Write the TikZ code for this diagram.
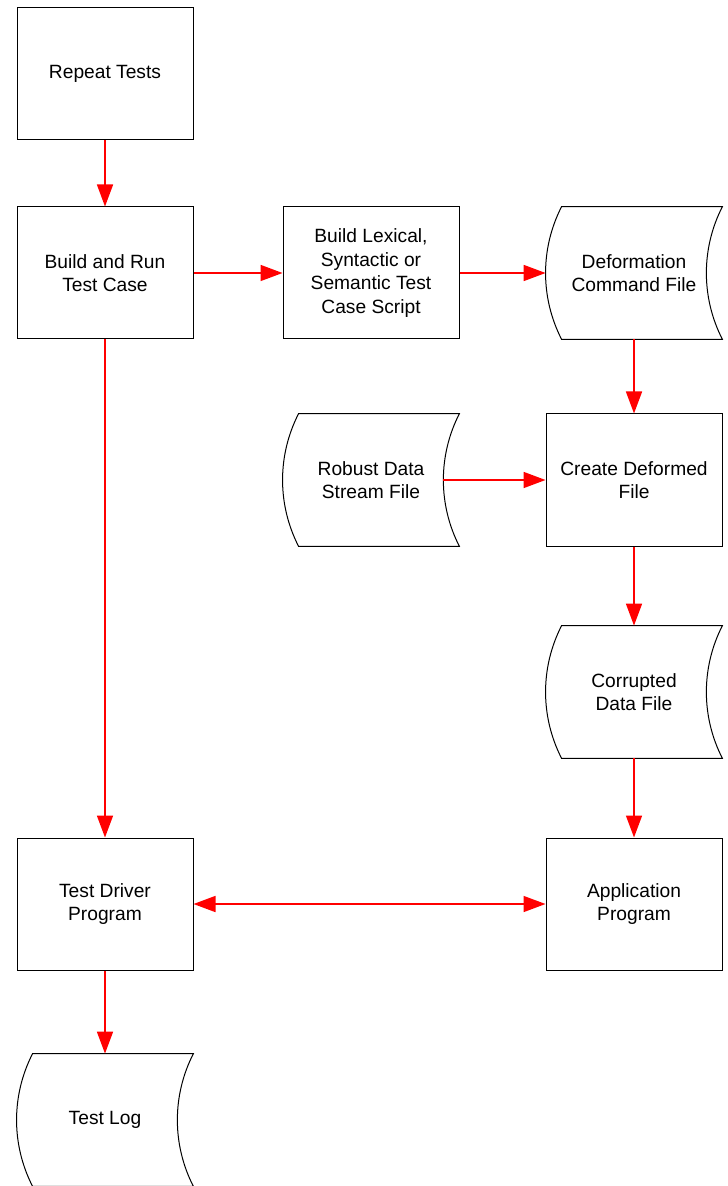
\documentclass[tikz,border=0pt]{standalone}
\usepackage{fontspec}
\setmainfont{Liberation Sans}
\usetikzlibrary{arrows.meta}
\tikzset{
    process-box/.style = {draw=black, line width=0.5pt, rectangle, minimum width=88pt, minimum height=66pt, inner sep=0pt, align=center, font=\fontsize{9.6}{11.7}\selectfont},
    data-file/.style = {rectangle, minimum width=88pt, minimum height=66pt, inner sep=0pt, align=center, font=\fontsize{9.6}{11.7}\selectfont},
    file-outline/.style = {draw=black, line width=0.5pt},
    flow-arrow/.style = {draw=red, line width=0.8pt, -{Triangle[length=11pt,width=8pt]}},
}

\begin{document}
\begin{tikzpicture}[x=0.5pt, y=-0.5pt]
\useasboundingbox (0,0) rectangle (727,1186);
% left column
\node[process-box] (repeat) at (105,74) {Repeat Tests};
\node[process-box] (build) at (105,273) {Build and Run\\Test Case};
\node[process-box] (driver) at (105,904) {Test Driver\\Program};
\node[data-file] (testlog) at (105,1120) {Test Log};
% middle column
\node[process-box] (lexical) at (371,273) {Build Lexical,\\Syntactic or\\Semantic Test\\Case Script};
\node[data-file] (robust) at (371,480) {Robust Data\\Stream File};
% right column
\node[data-file] (cmdfile) at (634,273) {Deformation\\Command File};
\node[process-box] (create) at (634,480) {Create Deformed\\File};
\node[data-file] (corrupt) at (634,692) {Corrupted\\Data File};
\node[process-box] (app) at (634,904) {Application\\Program};

% stored data outlines
\foreach \f in {cmdfile,robust,corrupt,testlog}
    \draw[file-outline] ([xshift=8pt]\f.north west) -- (\f.north east)
        .. controls ([xshift=-10.7pt,yshift=12.3pt]\f.east) and ([xshift=-10.7pt,yshift=-12.3pt]\f.east) .. (\f.south east)
        -- ([xshift=8pt]\f.south west)
        .. controls ([xshift=-2.7pt,yshift=-12.3pt]\f.west) and ([xshift=-2.7pt,yshift=12.3pt]\f.west) .. ([xshift=8pt]\f.north west) -- cycle;

\draw[flow-arrow] (repeat) -- (build);
\draw[flow-arrow] (build) -- (lexical);
\draw[flow-arrow] (lexical) -- (cmdfile);
\draw[flow-arrow] (cmdfile) -- (create);
\draw[flow-arrow] ([xshift=-8pt]robust.east) -- (create);
\draw[flow-arrow] (create) -- (corrupt);
\draw[flow-arrow] (corrupt) -- (app);
\draw[flow-arrow] (build) -- (driver);
\draw[flow-arrow, {Triangle[length=11pt,width=8pt]}-{Triangle[length=11pt,width=8pt]}] (driver) -- (app);
\draw[flow-arrow] (driver) -- (testlog);
\end{tikzpicture}
\end{document}
